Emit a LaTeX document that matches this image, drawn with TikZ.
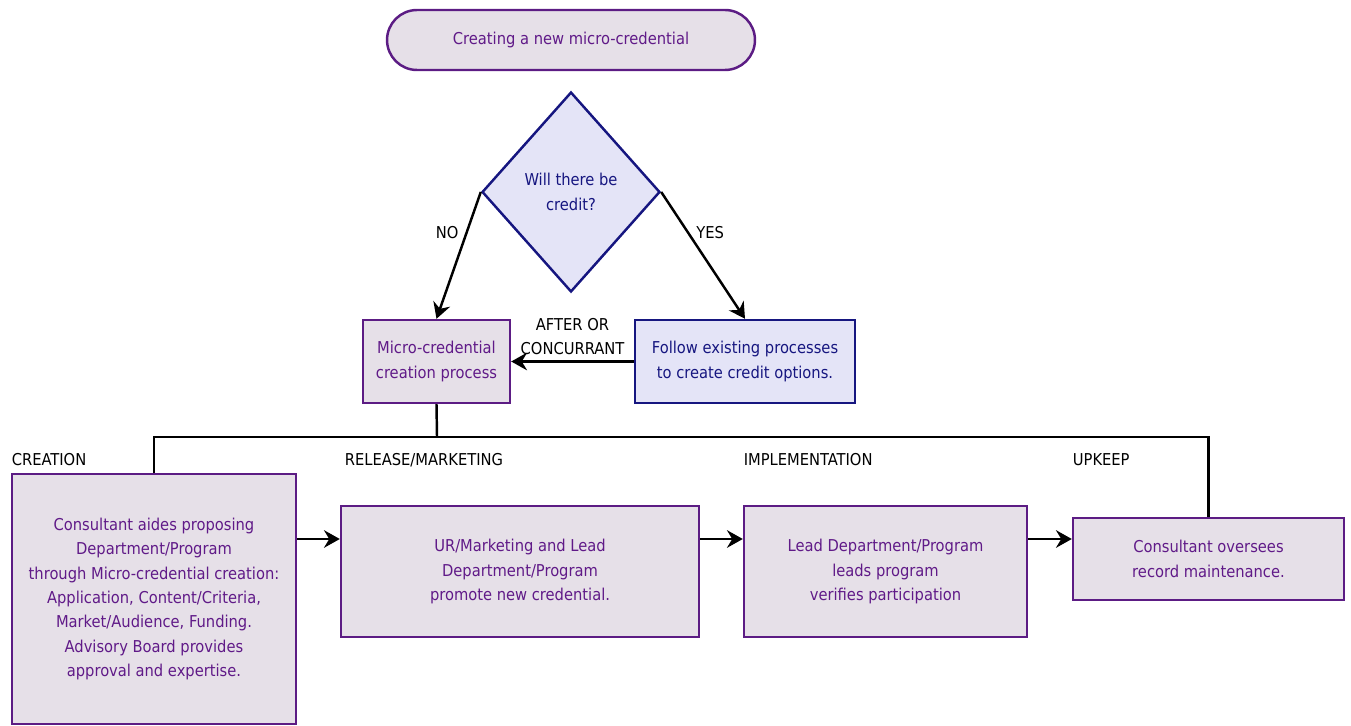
\documentclass[tikz,border=0pt]{standalone}
\usepackage{fontspec}
\setmainfont{DejaVu Sans Condensed}
\usepackage{tikz}
\usetikzlibrary{shapes.geometric, arrows.meta, positioning, calc}
\definecolor{credpurple}{RGB}{92, 28, 132}
\definecolor{credtext}{RGB}{96, 26, 136}
\definecolor{credfill}{RGB}{230, 224, 232}
\definecolor{credblue}{RGB}{22, 22, 128}
\definecolor{credlav}{RGB}{228, 228, 247}
\tikzset{
    base/.style={font=\fontsize{9.3}{13.9}\selectfont, align=center, inner sep=2pt},
    block/.style={base, rectangle, draw=credpurple, fill=credfill, text=credtext, line width=1.4pt},
    creditblock/.style={base, rectangle, draw=credblue, fill=credlav, text=credblue, line width=1.4pt},
    startstop/.style={block, rounded corners=0.6cm, minimum width=7.36cm, minimum height=1.2cm},
    decision/.style={base, diamond, draw=credblue, fill=credlav, text=credblue, line width=1.4pt, inner sep=0pt, minimum width=3.56cm, minimum height=4cm},
    line/.style={draw, black, line width=1.4pt, -{Stealth[length=9pt, width=10pt, inset=3pt]}},
    bus/.style={draw, black, line width=1.4pt},
    stage/.style={base, anchor=west, text=black}
}
\begin{document}
\begin{tikzpicture}[x=0.02cm, y=-0.02cm]
    \useasboundingbox (0,0) rectangle (1351,726);

    % --- DECISION PART ---
    \node[startstop] (start) at (571,40) {Creating a new micro-credential};
    \node[decision] (credit) at (571,192) {Will there be\\ credit?};
    \node[block, minimum width=2.94cm, minimum height=1.66cm] (micro) at (436.5,361.5) {Micro-credential\\ creation process};
    \node[creditblock, minimum width=4.4cm, minimum height=1.66cm] (follow) at (745,361.5) {Follow existing processes\\ to create credit options.};

    \draw[line] (credit.west) -- (micro.north) node[base, pos=0.32, left=2pt] {NO};
    \draw[line] (credit.east) -- (follow.north) node[base, pos=0.32, right=2pt] {YES};
    \draw[line] (follow.west) -- (micro.east) node[base, midway, above=1pt] {AFTER OR\\ CONCURRANT};

    % --- STAGES ---
    \node[block, minimum width=5.68cm, minimum height=5cm] (creation) at (154,599) {Consultant aides proposing\\ Department/Program\\ through Micro-credential creation:\\ Application, Content/Criteria,\\ Market/Audience, Funding.\\ Advisory Board provides\\ approval and expertise.};
    \node[block, minimum width=7.16cm, minimum height=2.62cm] (release) at (520,571.5) {UR/Marketing and Lead\\ Department/Program\\ promote new credential.};
    \node[block, minimum width=5.66cm, minimum height=2.62cm] (implement) at (885.5,571.5) {Lead Department/Program\\ leads program\\ verifies participation};
    \node[block, minimum width=5.42cm, minimum height=1.64cm] (upkeep) at (1208.5,559) {Consultant oversees\\ record maintenance.};

    \node[stage] (lcreation) at (8,460) {CREATION};
    \node[stage] (lrelease) at (341,460) {RELEASE/MARKETING};
    \node[stage] (limplement) at (740,460) {IMPLEMENTATION};
    \node[stage] (lupkeep) at (1069,460) {UPKEEP};

    % bus line under the creation process
    \coordinate (split) at (437,437);
    \coordinate (row) at (0,539);
    \draw[bus] (micro.south) -- (split);
    \draw[bus] (creation.north) |- (split);
    \draw[bus] (upkeep.north) |- (split);

    \draw[line] (creation.east |- row) -- (release.west |- row);
    \draw[line] (release.east |- row) -- (implement.west |- row);
    \draw[line] (implement.east |- row) -- (upkeep.west |- row);

\end{tikzpicture}
\end{document}
